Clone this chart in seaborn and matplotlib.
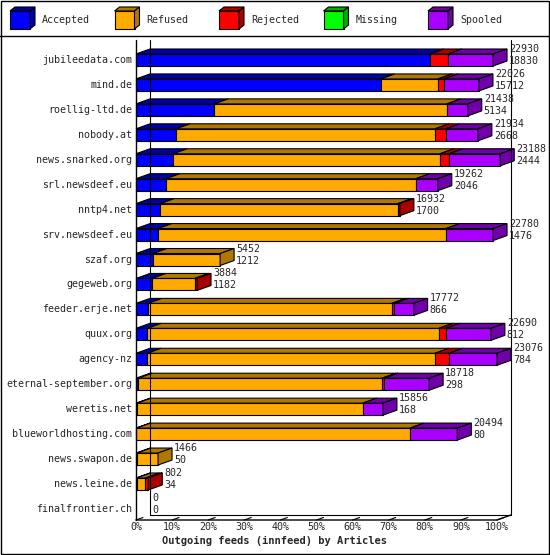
import matplotlib
matplotlib.use("Agg")
import matplotlib.pyplot as plt
import numpy as np
import seaborn as sns
from matplotlib.patches import Polygon, Rectangle

hosts = ["jubileedata.com", "mind.de", "roellig-ltd.de", "nobody.at", "news.snarked.org",
         "srl.newsdeef.eu", "nntp4.net", "srv.newsdeef.eu", "szaf.org", "gegeweb.org",
         "feeder.erje.net", "quux.org", "agency-nz", "eternal-september.org", "weretis.net",
         "blueworldhosting.com", "news.swapon.de", "news.leine.de", "finalfrontier.ch"]
totals = [22930, 22026, 21438, 21934, 23188, 19262, 16932, 22780, 5452, 3884,
          17772, 22690, 23076, 18718, 15856, 20494, 1466, 802, 0]
accepted_n = [18830, 15712, 5134, 2668, 2444, 2046, 1700, 1476, 1212, 1182,
              866, 812, 784, 298, 168, 80, 50, 34, 0]
# segment widths in % of the axis
accepted = [81.4, 67.8, 21.7, 11.1, 10.3, 8.3, 6.7, 6.1, 4.7, 4.4, 3.3, 3.1, 3.1, 0.6, 0.3, 0.1, 0.3, 0.2, 0]
refused = [0, 15.8, 64.4, 71.7, 73.9, 69.2, 65.8, 79.7, 18.6, 11.9, 67.5, 80.8, 79.7, 67.5, 62.5, 75.8, 5.8, 2.4, 0]
rejected = [5.0, 1.7, 0, 3.0, 2.5, 0, 0.6, 0, 0, 0.6, 0.8, 1.9, 3.9, 0.6, 0, 0, 0, 0.8, 0]
missing = [0] * 19
spooled = [12.5, 9.7, 5.8, 8.9, 14.2, 6.1, 0, 13.1, 0, 0, 5.3, 12.5, 13.3, 12.5, 5.6, 13.1, 0, 0, 0]
series = ["Accepted", "Refused", "Rejected", "Missing", "Spooled"]
ticks = list(range(0, 101, 10))

front = ["#0000ff", "#ffaa00", "#ff0000", "#00ff00", "#aa00ff"]
dark = ["#0000aa", "#b07800", "#aa0000", "#00aa00", "#7000a8"]

sns.set_style("white")
plt.rcParams["font.family"] = ["DejaVu Sans Mono"]
FS = 7.2

W, H = 550, 555
fig = plt.figure(figsize=(5.5, 5.55), dpi=100)
ax = fig.add_axes([0, 0, 1, 1])
PX, PY, X0, Y0 = 3.61, 24.94, 136, 60
ax.set_xlim(-X0 / PX, (W - X0) / PX)
ax.set_ylim((H - Y0) / PY, -Y0 / PY)
ax.axis("off")

def px(x, y):
    return ((x - X0) / PX, (y - Y0) / PY)

DX, DY, BH = 14 / PX, 5 / PY, 12 / PY
kw = dict(ec="black", lw=0.8)

# frame
ax.add_patch(Rectangle(px(0.5, 0.5), 549 / PX, 554 / PY, fill=False, ec="black", lw=1))
ax.plot(*zip(px(0, 36), px(550, 36)), color="black", lw=1)

# legend
for i, (name, f, d) in enumerate(zip(series, front, dark)):
    x0, y0 = 10 + i * 104.5, 11
    ax.add_patch(Rectangle(px(x0, y0), 20 / PX, 18 / PY, fc=f, **kw))
    ax.add_patch(Polygon([px(x0, y0), px(x0 + 5, y0 - 4), px(x0 + 25, y0 - 4), px(x0 + 20, y0)], fc=d, **kw))
    ax.add_patch(Polygon([px(x0 + 20, y0), px(x0 + 25, y0 - 4), px(x0 + 25, y0 + 14), px(x0 + 20, y0 + 18)], fc=d, **kw))
    ax.text(*px(x0 + 32, y0 + 9), name, fontsize=FS, va="center")

# axes walls
yb = (520 - Y0) / PY
ytop = (40 - Y0) / PY
ax.plot([0, 0], [ytop, yb], color="black", lw=1)
ax.plot([DX, DX], [ytop, yb - DY], color="black", lw=0.8)
ax.plot([100 + DX, 100 + DX], [ytop, yb - DY], color="black", lw=0.8)
ax.plot([0, 100, 100 + DX], [yb, yb, yb - DY], color="black", lw=1)
ax.plot([DX, 100 + DX], [yb - DY, yb - DY], color="black", lw=0.8)
for t in ticks:
    ax.plot([t, t + DX * 0.5], [yb, yb - DY * 0.5], color="black", lw=0.8)
    ax.text(t, yb + 2 / PY, f"{t}%", fontsize=FS, ha="center", va="top")
ax.text(*px(275, 541), "Outgoing feeds (innfeed) by Articles", fontsize=FS + 0.3,
        fontweight="bold", ha="center", va="center")

# bars
data = np.array([accepted, refused, rejected, missing, spooled]).T
for r, (host, segs) in enumerate(zip(hosts, data)):
    top, bot = r - BH / 2, r + BH / 2
    ax.text(-1.0, r, host, fontsize=FS, ha="right", va="center")
    left = 0.0
    last = None
    for k, w in enumerate(segs):
        if w <= 0:
            continue
        ax.add_patch(Rectangle((left, top), w, BH, fc=front[k], **kw))
        ax.add_patch(Polygon([(left, top), (left + DX, top - DY), (left + w + DX, top - DY), (left + w, top)],
                             fc=dark[k], **kw))
        left += w
        last = k
    if last is not None:
        ax.add_patch(Polygon([(left, top), (left + DX, top - DY), (left + DX, bot - DY), (left, bot)],
                             fc=dark[last], **kw))
    xt = left + DX + 2 / PX
    ax.text(xt, r - 11 / PY, str(totals[r]), fontsize=FS, va="center")
    ax.text(xt, r + 1 / PY, str(accepted_n[r]), fontsize=FS, va="center")

fig.savefig("out.png", dpi=100)
